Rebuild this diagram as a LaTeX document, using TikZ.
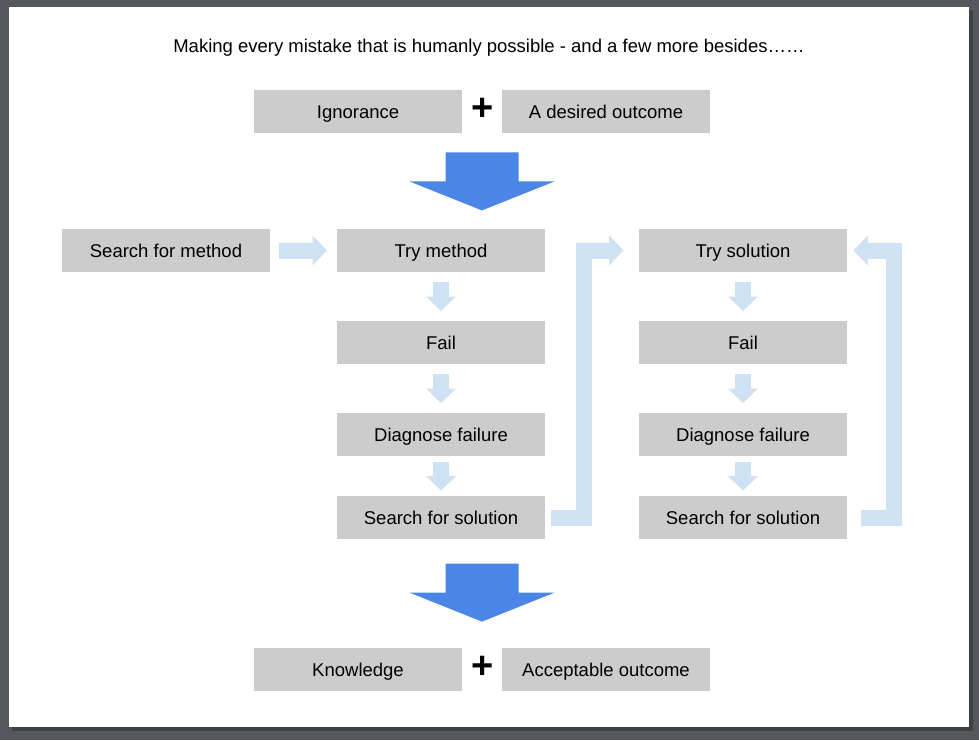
\documentclass[tikz,border=0pt]{standalone}
\usepackage{fontspec}
\setmainfont{Liberation Sans}
\usetikzlibrary{arrows.meta, calc}
\definecolor{boxgray}{HTML}{CCCCCC}
\definecolor{bigblue}{HTML}{4A86E8}
\definecolor{paleblue}{HTML}{CFE2F3}
\definecolor{deskgray}{HTML}{54585C}

\begin{document}
\begin{tikzpicture}[x=0.5pt, y=-0.5pt,
    box/.style={fill=boxgray, minimum width=104pt, minimum height=21.5pt, inner sep=0pt,
        text height=1.55ex, text depth=.3ex, font=\fontsize{9.25}{11}\selectfont},
    plussign/.style={font=\bfseries\fontsize{19}{19}\selectfont, inner sep=0pt},
    smallarrow/.style={paleblue, line width=8pt, line join=miter,
        -{Triangle[length=7.25pt, width=15pt, line width=0pt]}}]
    % Page and shadow
    \fill[deskgray] (0,0) rectangle (979,740);
    \fill[black, opacity=0.25] (12,10) rectangle (973,731);
    \fill[white] (9,7) rectangle (969,727);

    % Title
    \node[font=\fontsize{9.25}{11}\selectfont] (title) at (489,48)
        {Making every mistake that is humanly possible - and a few more besides……};

    % Start
    \node[box] (ign) at (358,111.5) {Ignorance};
    \node[box] (des) at (606,111.5) {A desired outcome};
    \node[plussign] (plustop) at (482.5,109) {+};

    % Method column
    \node[box] (meth) at (166,250.5) {Search for method};
    \node[box] (try1) at (441,250.5) {Try method};
    \node[box] (fail1) at (441,342.5) {Fail};
    \node[box] (diag1) at (441,434.5) {Diagnose failure};
    \node[box] (sol1) at (441,517.5) {Search for solution};

    % Solution column
    \node[box] (try2) at (743,250.5) {Try solution};
    \node[box] (fail2) at (743,342.5) {Fail};
    \node[box] (diag2) at (743,434.5) {Diagnose failure};
    \node[box] (sol2) at (743,517.5) {Search for solution};

    % End
    \node[box] (know) at (358,669.5) {Knowledge};
    \node[box] (acc) at (606,669.5) {Acceptable outcome};
    \node[plussign] (plusbot) at (482.5,667) {+};

    % Big arrows
    \coordinate (bigtop) at ($(ign.south east)!0.5!(des.south west)+(0,19)$);
    \coordinate (bigbot) at ($(know.north east)!0.5!(acc.north west)+(0,-84)$);
    \fill[bigblue] (bigtop) ++(-36.5,0) -- ++(73,0) -- ++(0,29) -- ++(36,0)
        -- ++(-72.5,29) -- ++(-72.5,-29) -- ++(36,0) -- cycle;
    \fill[bigblue] (bigbot) ++(-36.5,0) -- ++(73,0) -- ++(0,29) -- ++(36,0)
        -- ++(-72.5,29) -- ++(-72.5,-29) -- ++(36,0) -- cycle;

    % Small arrows
    \draw[smallarrow] ($(meth.east)!0.5!(try1.west)+(-24.5,0)$) -- ++(48,0);
    \foreach \a/\b in {try1/fail1, fail1/diag1, diag1/sol1, try2/fail2, fail2/diag2, diag2/sol2} {
        \draw[smallarrow] ($(\a.south)!0.5!(\b.north)+(0,-14.5)$) -- ++(0,29);
    }

    % Loops back
    \draw[smallarrow] ($(sol1.east)+(6,0)$) -- ++(32.5,0) |- ($(try2.west)+(-15,0)$);
    \draw[smallarrow] ($(sol2.east)+(14,0)$) -- ++(32.5,0) |- ($(try2.east)+(6,0)$);
\end{tikzpicture}
\end{document}
